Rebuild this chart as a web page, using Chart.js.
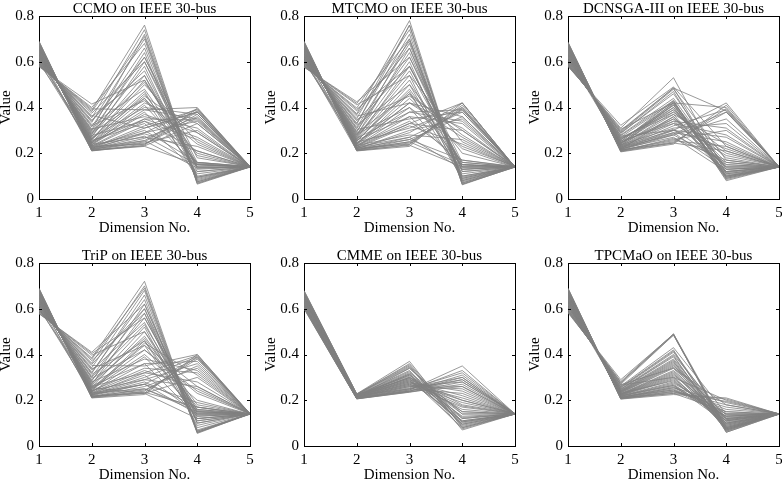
<!DOCTYPE html>
<html>
<head>
<meta charset="utf-8">
<script src="https://cdn.jsdelivr.net/npm/chart.js@4"></script>
<style>
  html, body { margin: 0; padding: 0; background: #fff; }
  #wrap { position: relative; width: 782px; height: 482px; overflow: hidden; background: #fff; }
  #wrap canvas { position: absolute; }
</style>
</head>
<body>
<div id="wrap"></div>
<script>
// parallel coordinates, 5 objectives per solution
var dims = [1, 2, 3, 4, 5];
var yTicks = [0, 0.2, 0.4, 0.6, 0.8];
var titles = ['CCMO on IEEE 30-bus', 'MTCMO on IEEE 30-bus', 'DCNSGA-III on IEEE 30-bus',
              'TriP on IEEE 30-bus', 'CMME on IEEE 30-bus', 'TPCMaO on IEEE 30-bus'];

var ccmo = [
  [0.690,0.210,0.235,0.395,0.143],[0.686,0.212,0.250,0.380,0.140],[0.683,0.215,0.265,0.360,0.141],
  [0.680,0.218,0.290,0.340,0.139],[0.676,0.220,0.245,0.300,0.140],[0.672,0.224,0.320,0.390,0.142],
  [0.668,0.228,0.300,0.160,0.140],[0.664,0.232,0.350,0.270,0.141],[0.660,0.236,0.380,0.140,0.139],
  [0.656,0.240,0.270,0.230,0.140],[0.652,0.245,0.420,0.330,0.142],[0.648,0.250,0.460,0.150,0.140],
  [0.645,0.256,0.330,0.120,0.141],[0.641,0.262,0.500,0.250,0.140],[0.637,0.268,0.400,0.370,0.139],
  [0.633,0.275,0.540,0.135,0.140],[0.629,0.282,0.580,0.100,0.141],[0.625,0.290,0.440,0.200,0.140],
  [0.621,0.298,0.620,0.180,0.142],[0.617,0.306,0.360,0.310,0.140],[0.613,0.315,0.660,0.085,0.141],
  [0.609,0.325,0.480,0.150,0.140],[0.605,0.335,0.700,0.075,0.139],[0.601,0.345,0.560,0.120,0.140],
  [0.597,0.355,0.740,0.068,0.141],[0.593,0.365,0.310,0.380,0.140],[0.589,0.375,0.600,0.160,0.142],
  [0.585,0.388,0.760,0.065,0.140],[0.581,0.400,0.680,0.095,0.141],[0.578,0.415,0.520,0.140,0.140],
  [0.640,0.215,0.255,0.385,0.140],[0.620,0.222,0.285,0.210,0.141],[0.600,0.230,0.240,0.355,0.139],
  [0.610,0.245,0.390,0.400,0.140],[0.630,0.212,0.230,0.150,0.142],[0.595,0.260,0.450,0.290,0.140],
  [0.688,0.211,0.240,0.370,0.141],[0.684,0.214,0.232,0.330,0.140],[0.679,0.217,0.275,0.150,0.142],
  [0.675,0.221,0.310,0.380,0.140],[0.671,0.225,0.255,0.135,0.139],[0.667,0.229,0.340,0.210,0.141],
  [0.663,0.233,0.290,0.395,0.140],[0.659,0.237,0.410,0.160,0.142],[0.655,0.242,0.370,0.290,0.140],
  [0.651,0.247,0.440,0.110,0.141],[0.647,0.252,0.350,0.345,0.140],[0.643,0.258,0.520,0.155,0.139],
  [0.639,0.264,0.470,0.090,0.140],[0.635,0.271,0.600,0.130,0.141],[0.631,0.278,0.340,0.260,0.140],
  [0.627,0.286,0.640,0.075,0.142],[0.623,0.294,0.510,0.190,0.140],[0.619,0.302,0.720,0.080,0.141],
  [0.611,0.320,0.430,0.240,0.140],[0.603,0.340,0.620,0.140,0.139],[0.595,0.360,0.540,0.095,0.140],
  [0.587,0.382,0.710,0.070,0.141],[0.583,0.394,0.390,0.350,0.140]
];

var mtcmo = [
  [0.690,0.210,0.230,0.420,0.140],[0.686,0.213,0.245,0.400,0.141],[0.682,0.216,0.270,0.380,0.140],
  [0.678,0.219,0.300,0.350,0.139],[0.674,0.222,0.240,0.410,0.140],[0.670,0.226,0.330,0.300,0.142],
  [0.666,0.230,0.360,0.150,0.140],[0.662,0.234,0.280,0.260,0.141],[0.658,0.238,0.400,0.130,0.140],
  [0.654,0.243,0.440,0.220,0.139],[0.650,0.248,0.310,0.400,0.140],[0.646,0.254,0.480,0.160,0.141],
  [0.642,0.260,0.520,0.110,0.140],[0.638,0.266,0.380,0.340,0.142],[0.634,0.273,0.560,0.140,0.140],
  [0.630,0.280,0.600,0.090,0.141],[0.626,0.288,0.460,0.280,0.140],[0.622,0.296,0.640,0.120,0.139],
  [0.618,0.304,0.350,0.380,0.140],[0.614,0.313,0.680,0.080,0.141],[0.610,0.322,0.500,0.200,0.140],
  [0.606,0.332,0.720,0.070,0.142],[0.602,0.342,0.580,0.150,0.140],[0.598,0.352,0.760,0.062,0.141],
  [0.594,0.362,0.420,0.360,0.140],[0.590,0.373,0.780,0.065,0.139],[0.586,0.385,0.660,0.100,0.140],
  [0.582,0.398,0.740,0.075,0.141],[0.579,0.412,0.540,0.250,0.140],[0.576,0.425,0.620,0.130,0.140],
  [0.640,0.215,0.250,0.390,0.141],[0.620,0.224,0.260,0.170,0.140],[0.605,0.232,0.330,0.420,0.139],
  [0.630,0.240,0.420,0.310,0.140],[0.600,0.255,0.470,0.090,0.141],[0.615,0.212,0.235,0.140,0.140],
  [0.688,0.211,0.238,0.395,0.140],[0.684,0.214,0.260,0.360,0.141],[0.680,0.217,0.250,0.150,0.140],
  [0.676,0.220,0.290,0.420,0.139],[0.672,0.224,0.320,0.240,0.140],[0.668,0.228,0.270,0.130,0.141],
  [0.664,0.232,0.380,0.390,0.140],[0.660,0.236,0.340,0.170,0.142],[0.656,0.240,0.460,0.140,0.140],
  [0.652,0.245,0.420,0.270,0.141],[0.648,0.251,0.500,0.100,0.140],[0.644,0.257,0.360,0.330,0.139],
  [0.640,0.263,0.580,0.150,0.140],[0.636,0.270,0.540,0.080,0.141],[0.632,0.277,0.660,0.120,0.140],
  [0.628,0.284,0.400,0.230,0.142],[0.624,0.292,0.700,0.065,0.140],[0.616,0.308,0.620,0.160,0.141],
  [0.608,0.327,0.760,0.070,0.140],[0.600,0.347,0.450,0.300,0.139],[0.592,0.368,0.690,0.095,0.140],
  [0.584,0.392,0.580,0.140,0.141],[0.578,0.418,0.700,0.085,0.140]
];

var dcnsga = [
  [0.686,0.206,0.240,0.410,0.140],[0.682,0.209,0.250,0.380,0.142],[0.678,0.212,0.260,0.300,0.140],
  [0.674,0.214,0.280,0.160,0.139],[0.670,0.217,0.300,0.220,0.141],[0.666,0.220,0.270,0.120,0.140],
  [0.662,0.222,0.320,0.390,0.142],[0.658,0.225,0.340,0.140,0.140],[0.654,0.228,0.290,0.250,0.141],
  [0.650,0.231,0.360,0.100,0.140],[0.646,0.234,0.380,0.180,0.139],[0.642,0.237,0.310,0.330,0.140],
  [0.638,0.240,0.400,0.110,0.141],[0.634,0.243,0.420,0.090,0.140],[0.630,0.246,0.350,0.200,0.142],
  [0.626,0.250,0.430,0.080,0.140],[0.622,0.254,0.330,0.280,0.141],[0.618,0.258,0.410,0.130,0.140],
  [0.614,0.262,0.390,0.150,0.139],[0.610,0.266,0.370,0.240,0.140],[0.606,0.270,0.425,0.100,0.141],
  [0.602,0.275,0.300,0.420,0.140],[0.598,0.280,0.440,0.120,0.142],[0.594,0.286,0.470,0.095,0.140],
  [0.590,0.292,0.480,0.170,0.141],[0.586,0.300,0.485,0.385,0.140],[0.582,0.310,0.530,0.110,0.139],
  [0.579,0.322,0.490,0.230,0.140],[0.660,0.215,0.245,0.210,0.140],[0.640,0.225,0.280,0.350,0.141],
  [0.650,0.218,0.360,0.140,0.140],[0.620,0.235,0.415,0.085,0.140],
  [0.684,0.208,0.245,0.395,0.141],[0.680,0.210,0.265,0.170,0.140],[0.676,0.213,0.255,0.230,0.139],
  [0.672,0.216,0.290,0.130,0.140],[0.668,0.218,0.285,0.380,0.141],[0.664,0.221,0.305,0.150,0.140],
  [0.656,0.226,0.330,0.190,0.142],[0.652,0.229,0.350,0.120,0.140],[0.648,0.232,0.300,0.270,0.141],
  [0.644,0.235,0.370,0.105,0.140],[0.636,0.241,0.390,0.160,0.139],[0.632,0.244,0.410,0.095,0.140],
  [0.628,0.248,0.340,0.310,0.141],[0.624,0.252,0.420,0.140,0.140],[0.616,0.260,0.400,0.115,0.142],
  [0.608,0.268,0.380,0.210,0.140],[0.600,0.277,0.430,0.090,0.141],[0.592,0.289,0.460,0.130,0.140],
  [0.588,0.296,0.485,0.100,0.139],[0.584,0.305,0.420,0.400,0.140]
];

var trip = [
  [0.690,0.210,0.225,0.400,0.142],[0.686,0.213,0.240,0.380,0.140],[0.682,0.216,0.260,0.340,0.141],
  [0.678,0.219,0.230,0.300,0.140],[0.674,0.222,0.280,0.170,0.139],[0.670,0.226,0.300,0.390,0.140],
  [0.666,0.230,0.250,0.150,0.142],[0.662,0.234,0.330,0.250,0.140],[0.658,0.238,0.360,0.130,0.141],
  [0.654,0.243,0.290,0.360,0.140],[0.650,0.248,0.400,0.200,0.139],[0.646,0.254,0.440,0.120,0.140],
  [0.642,0.260,0.320,0.280,0.141],[0.638,0.266,0.480,0.160,0.140],[0.634,0.273,0.520,0.090,0.142],
  [0.630,0.280,0.380,0.330,0.140],[0.626,0.288,0.560,0.140,0.141],[0.622,0.296,0.420,0.230,0.140],
  [0.618,0.304,0.600,0.070,0.139],[0.614,0.313,0.460,0.150,0.140],[0.610,0.322,0.640,0.060,0.141],
  [0.606,0.332,0.540,0.110,0.140],[0.602,0.342,0.680,0.055,0.142],[0.598,0.352,0.350,0.400,0.140],
  [0.594,0.362,0.700,0.065,0.141],[0.590,0.373,0.580,0.130,0.140],[0.586,0.385,0.720,0.058,0.139],
  [0.582,0.397,0.500,0.180,0.140],[0.578,0.410,0.620,0.100,0.141],[0.640,0.215,0.235,0.170,0.140],
  [0.620,0.224,0.270,0.385,0.140],[0.605,0.232,0.310,0.140,0.141],[0.630,0.240,0.450,0.310,0.140],
  [0.600,0.255,0.230,0.120,0.139],
  [0.688,0.211,0.232,0.390,0.141],[0.684,0.214,0.250,0.160,0.140],[0.680,0.217,0.245,0.350,0.142],
  [0.676,0.220,0.270,0.140,0.140],[0.672,0.224,0.290,0.260,0.141],[0.668,0.228,0.320,0.395,0.140],
  [0.664,0.232,0.270,0.190,0.139],[0.660,0.236,0.390,0.150,0.140],[0.656,0.240,0.340,0.320,0.141],
  [0.652,0.245,0.460,0.110,0.140],[0.648,0.251,0.420,0.240,0.142],[0.644,0.257,0.500,0.135,0.140],
  [0.640,0.263,0.360,0.370,0.141],[0.636,0.270,0.580,0.080,0.140],[0.632,0.277,0.470,0.170,0.139],
  [0.628,0.284,0.620,0.100,0.140],[0.620,0.300,0.530,0.145,0.141],[0.612,0.318,0.660,0.065,0.140],
  [0.604,0.337,0.440,0.260,0.142],[0.596,0.357,0.600,0.120,0.140],[0.588,0.380,0.690,0.060,0.141],
  [0.580,0.404,0.560,0.155,0.140]
];

var cmme = [
  [0.680,0.228,0.370,0.080,0.140],[0.676,0.226,0.360,0.100,0.141],[0.672,0.225,0.350,0.070,0.140],
  [0.668,0.224,0.340,0.120,0.139],[0.664,0.222,0.330,0.090,0.140],[0.660,0.221,0.320,0.150,0.141],
  [0.656,0.220,0.310,0.110,0.140],[0.652,0.219,0.300,0.180,0.142],[0.648,0.218,0.295,0.130,0.140],
  [0.644,0.217,0.290,0.200,0.141],[0.640,0.216,0.285,0.160,0.140],[0.636,0.215,0.280,0.220,0.139],
  [0.632,0.214,0.275,0.240,0.140],[0.628,0.213,0.270,0.190,0.141],[0.624,0.212,0.265,0.260,0.140],
  [0.620,0.211,0.260,0.280,0.142],[0.616,0.210,0.255,0.300,0.140],[0.612,0.209,0.250,0.320,0.141],
  [0.608,0.208,0.245,0.350,0.140],[0.604,0.207,0.240,0.290,0.139],[0.600,0.206,0.235,0.270,0.140],
  [0.670,0.223,0.305,0.095,0.140],[0.650,0.215,0.340,0.140,0.141],[0.640,0.220,0.250,0.230,0.140],
  [0.630,0.218,0.315,0.075,0.140],[0.660,0.212,0.265,0.170,0.141],[0.620,0.216,0.290,0.105,0.139],
  [0.645,0.210,0.240,0.310,0.140],
  [0.678,0.227,0.355,0.085,0.140],[0.674,0.226,0.345,0.105,0.141],[0.666,0.223,0.325,0.095,0.140],
  [0.658,0.220,0.315,0.125,0.139],[0.654,0.219,0.300,0.150,0.140],[0.646,0.217,0.280,0.175,0.141],
  [0.638,0.215,0.270,0.210,0.140],[0.634,0.214,0.300,0.120,0.142],[0.626,0.212,0.260,0.250,0.140],
  [0.618,0.210,0.250,0.290,0.141],[0.614,0.209,0.245,0.330,0.140],[0.610,0.208,0.240,0.300,0.139],
  [0.606,0.207,0.238,0.260,0.140],[0.602,0.206,0.236,0.280,0.141],[0.662,0.222,0.295,0.080,0.140],
  [0.642,0.218,0.310,0.140,0.140],[0.622,0.213,0.275,0.200,0.141],[0.650,0.216,0.285,0.110,0.140]
];

var tpcmao = [
  [0.690,0.205,0.225,0.210,0.140],[0.686,0.207,0.235,0.195,0.141],[0.682,0.209,0.240,0.180,0.140],
  [0.678,0.211,0.250,0.140,0.139],[0.674,0.213,0.260,0.120,0.140],[0.670,0.215,0.245,0.160,0.141],
  [0.666,0.217,0.270,0.110,0.140],[0.662,0.219,0.280,0.130,0.142],[0.658,0.221,0.290,0.100,0.140],
  [0.654,0.223,0.300,0.090,0.141],[0.650,0.225,0.310,0.125,0.140],[0.646,0.227,0.320,0.080,0.139],
  [0.642,0.229,0.330,0.115,0.140],[0.638,0.232,0.340,0.070,0.141],[0.634,0.235,0.350,0.135,0.140],
  [0.630,0.238,0.360,0.095,0.140],[0.626,0.241,0.370,0.065,0.142],[0.622,0.244,0.380,0.105,0.140],
  [0.618,0.247,0.390,0.075,0.141],[0.614,0.250,0.400,0.120,0.140],[0.610,0.254,0.410,0.085,0.139],
  [0.606,0.258,0.420,0.060,0.140],[0.602,0.262,0.430,0.140,0.141],[0.598,0.266,0.300,0.200,0.140],
  [0.594,0.270,0.485,0.070,0.140],[0.590,0.275,0.490,0.065,0.141],[0.586,0.282,0.490,0.080,0.140],
  [0.582,0.290,0.488,0.060,0.139],[0.660,0.212,0.255,0.190,0.140],[0.640,0.220,0.265,0.130,0.141],
  [0.620,0.230,0.285,0.110,0.140],[0.670,0.210,0.230,0.150,0.140],
  [0.688,0.206,0.230,0.205,0.140],[0.684,0.208,0.238,0.170,0.141],[0.680,0.210,0.245,0.130,0.140],
  [0.676,0.212,0.255,0.150,0.139],[0.668,0.216,0.265,0.100,0.140],[0.664,0.218,0.275,0.140,0.141],
  [0.656,0.222,0.295,0.110,0.140],[0.652,0.224,0.305,0.080,0.142],[0.648,0.226,0.315,0.120,0.140],
  [0.644,0.228,0.325,0.090,0.141],[0.636,0.233,0.345,0.100,0.140],[0.632,0.236,0.355,0.075,0.139],
  [0.628,0.239,0.365,0.115,0.140],[0.624,0.242,0.375,0.085,0.141],[0.616,0.248,0.395,0.070,0.140],
  [0.608,0.256,0.415,0.095,0.140],[0.596,0.268,0.340,0.180,0.141],[0.588,0.278,0.485,0.075,0.140]
];

var panels = [ccmo, mtcmo, dcnsga, trip, cmme, tpcmao];

var plotLefts = [39, 304, 568];
var plotTops = [16, 263];
var PW = 211, PH = 183;
var FONT = { family: '"Liberation Serif", "Times New Roman", serif', size: 15 };

// matlab style ticks pointing into the box
var innerTicks = {
  id: 'innerTicks',
  afterDraw: function(chart) {
    var ctx = chart.ctx, a = chart.chartArea, sx = chart.scales.x, sy = chart.scales.y;
    ctx.save();
    ctx.strokeStyle = '#000';
    ctx.lineWidth = 1;
    ctx.beginPath();
    dims.forEach(function(v) {
      var px = Math.round(sx.getPixelForValue(v)) + 0.5;
      ctx.moveTo(px, a.bottom); ctx.lineTo(px, a.bottom - 3);
      ctx.moveTo(px, a.top); ctx.lineTo(px, a.top + 3);
    });
    yTicks.forEach(function(v) {
      var py = Math.round(sy.getPixelForValue(v)) + 0.5;
      ctx.moveTo(a.left, py); ctx.lineTo(a.left + 3, py);
      ctx.moveTo(a.right, py); ctx.lineTo(a.right - 3, py);
    });
    ctx.stroke();
    ctx.restore();
  }
};

function makeChart(idx) {
  var col = idx % 3, row = Math.floor(idx / 3);
  var cv = document.createElement('canvas');
  var w = 42 + PW + 10, h = 16 + PH + 38;
  cv.width = w; cv.height = h;
  cv.style.left = (plotLefts[col] - 42) + 'px';
  cv.style.top = (plotTops[row] - 16) + 'px';
  cv.style.width = w + 'px'; cv.style.height = h + 'px';
  document.getElementById('wrap').appendChild(cv);

  var sets = panels[idx].map(function(r) {
    return {
      data: r.map(function(v, i) { return { x: dims[i], y: v }; }),
      borderColor: 'rgb(128,128,128)',
      borderWidth: 0.8,
      pointRadius: 0,
      tension: 0,
      fill: false
    };
  });

  new Chart(cv, {
    type: 'line',
    data: { datasets: sets },
    plugins: [innerTicks],
    options: {
      responsive: false,
      animation: false,
      events: [],
      layout: { padding: { left: 0, right: 10, top: 0, bottom: 0 } },
      plugins: { legend: { display: false }, tooltip: { enabled: false } },
      scales: {
        x: {
          type: 'linear', position: 'bottom', min: 1, max: 5,
          afterFit: function(s) { s.height = 38; },
          ticks: { stepSize: 1, color: '#000', font: FONT, padding: 5, maxRotation: 0 },
          grid: { display: false, drawTicks: false },
          border: { color: '#000', width: 1 },
          title: { display: true, text: 'Dimension No.', color: '#000', font: FONT, padding: 0 }
        },
        xTop: {
          type: 'linear', position: 'top', min: 1, max: 5,
          afterFit: function(s) { s.height = 16; },
          ticks: { display: false },
          grid: { display: false, drawTicks: false },
          border: { color: '#000', width: 1 },
          title: { display: true, text: titles[idx], color: '#000', font: FONT, padding: 0 }
        },
        y: {
          type: 'linear', position: 'left', min: 0, max: 0.8,
          afterFit: function(s) { s.width = 42; },
          afterBuildTicks: function(s) { s.ticks = yTicks.map(function(v) { return { value: v }; }); },
          ticks: { color: '#000', font: FONT, padding: 5 },
          grid: { display: false, drawTicks: false },
          border: { color: '#000', width: 1 },
          title: { display: true, text: 'Value', color: '#000', font: FONT, padding: 0 }
        },
        yRight: {
          type: 'linear', position: 'right', min: 0, max: 0.8,
          afterFit: function(s) { s.width = 0; },
          ticks: { display: false },
          grid: { display: false, drawTicks: false },
          border: { color: '#000', width: 1 }
        }
      }
    }
  });
}

for (var i = 0; i < 6; i++) makeChart(i);
</script>
</body>
</html>
